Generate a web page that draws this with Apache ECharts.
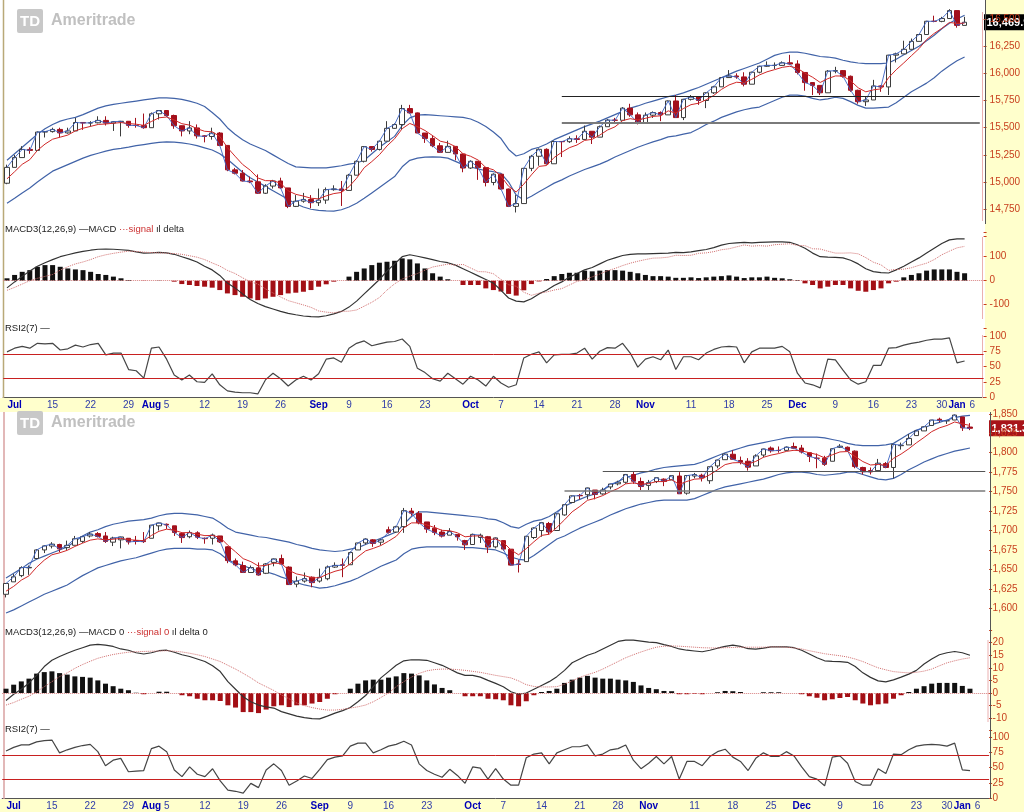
<!DOCTYPE html>
<html><head><meta charset="utf-8">
<script src="https://cdn.jsdelivr.net/npm/echarts/dist/echarts.min.js"></script>
<style>html,body{margin:0;padding:0;background:#fff;overflow:hidden}#c{width:1024px;height:812px}</style>
</head><body><div id="c"></div>
<script>
// ---------- categories ----------
const dates = ['07/05','07/08','07/09','07/10','07/11','07/12','07/15','07/16','07/17','07/18',
'07/19','07/22','07/23','07/24','07/25','07/26','07/29','07/30','07/31','08/01',
'08/02','08/05','08/06','08/07','08/08','08/09','08/12','08/13','08/14','08/15',
'08/16','08/19','08/20','08/21','08/22','08/23','08/26','08/27','08/28','08/29',
'08/30','09/03','09/04','09/05','09/06','09/09','09/10','09/11','09/12','09/13',
'09/16','09/17','09/18','09/19','09/20','09/23','09/24','09/25','09/26','09/27',
'09/30','10/01','10/02','10/03','10/04','10/07','10/08','10/09','10/10','10/11',
'10/14','10/15','10/16','10/17','10/18','10/21','10/22','10/23','10/24','10/25',
'10/28','10/29','10/30','10/31','11/01','11/04','11/05','11/06','11/07','11/08',
'11/11','11/12','11/13','11/14','11/15','11/18','11/19','11/20','11/21','11/22',
'11/25','11/26','11/27','11/29','12/02','12/03','12/04','12/05','12/06','12/09',
'12/10','12/11','12/12','12/13','12/16','12/17','12/18','12/19','12/20','12/23',
'12/24','12/26','12/27','12/30','12/31','01/02','01/03','01/06','01/07'];
const tickDates = ['07/08','07/15','07/22','07/29','08/01','08/05','08/12','08/19','08/26','09/03','09/09','09/16','09/23','10/01','10/07','10/14','10/21','10/28','11/01','11/11','11/18','11/25','12/02','12/09','12/16','12/23','12/30','01/02','01/06'];
const tickText  = ['Jul','15','22','29','Aug','5','12','19','26','Sep','9','16','23','Oct','7','14','21','28','Nov','11','18','25','Dec','9','16','23','30','Jan','6'];
const monthTicks = ['Jul','Aug','Sep','Oct','Nov','Dec','Jan'];

// ---------- Dow (top) ----------
const djO = [14989,15135,15225,15300,15291,15460,15464,15484,15452,15470,
15548,15543,15545,15567,15542,15555,15559,15521,15520,15500,
15628,15658,15612,15518,15470,15498,15425,15419,15451,15337,
15112,15081,15010,15002,14897,14963,15010,14946,14776,14824,
14840,14810,14834,14930,14937,14923,15063,15191,15326,15300,
15376,15494,15529,15676,15636,15451,15401,15334,15273,15328,
15258,15129,15191,15133,14996,15072,14936,14776,14802,15126,
15237,15301,15168,15373,15371,15399,15392,15467,15413,15509,
15570,15568,15680,15618,15546,15615,15639,15618,15746,15593,
15761,15783,15750,15821,15876,15961,15976,15967,15900,16010,
16065,16073,16073,16097,16086,16008,15915,15889,15821,16020,
16025,15973,15844,15739,15755,15884,15875,16167,16179,16221,
16294,16357,16479,16478,16504,16577,16441];
const djH = [15160,15250,15330,15320,15465,15470,15500,15500,15500,15590,
15550,15560,15605,15605,15560,15560,15560,15590,15630,15640,
15660,15660,15620,15520,15560,15530,15430,15500,15460,15337,
15130,15110,15050,15070,14980,15020,15040,14946,14880,14900,
14880,14940,14950,14970,15010,15075,15200,15330,15330,15380,
15560,15540,15710,15710,15640,15451,15430,15360,15380,15328,
15258,15200,15191,15140,15080,15072,14940,14880,15130,15250,
15310,15310,15380,15376,15420,15430,15520,15467,15520,15580,
15590,15690,15720,15640,15640,15650,15650,15750,15800,15765,
15800,15790,15825,15885,15965,16030,16000,16010,16015,16070,
16110,16100,16110,16170,16120,16008,15920,15890,16030,16060,
16030,15980,15850,15790,15940,15890,16170,16190,16300,16320,
16360,16483,16530,16520,16590,16580,16520];
const djL = [14980,15135,15225,15260,15291,15410,15455,15410,15445,15470,
15480,15510,15540,15520,15470,15420,15500,15500,15490,15500,
15575,15600,15490,15420,15440,15400,15365,15390,15330,15100,
15070,15005,14990,14890,14890,14940,14940,14760,14770,14810,
14760,14780,14800,14920,14780,14923,15063,15180,15280,15290,
15376,15490,15480,15630,15450,15360,15320,15270,15273,15200,
15090,15120,15020,14960,14970,14930,14770,14720,14802,15100,
15150,15160,15168,15230,15360,15360,15392,15350,15413,15509,
15550,15568,15600,15530,15546,15590,15560,15618,15590,15570,
15750,15710,15680,15810,15876,15960,15950,15880,15900,16000,
16060,16040,16070,16080,15990,15840,15800,15800,15821,16000,
15960,15830,15720,15700,15755,15830,15800,16100,16179,16221,
16294,16357,16470,16470,16504,16420,16441];
const djC = [15135,15225,15300,15291,15460,15464,15484,15452,15470,15548,
15543,15545,15567,15542,15555,15559,15521,15520,15500,15628,
15658,15612,15518,15470,15498,15425,15419,15451,15337,15112,
15081,15010,15002,14897,14963,15010,14946,14776,14824,14840,
14810,14834,14930,14937,14923,15063,15191,15326,15300,15376,
15494,15529,15676,15636,15451,15401,15334,15273,15328,15258,
15129,15191,15133,14996,15072,14936,14776,14802,15126,15237,
15301,15168,15373,15371,15399,15392,15467,15413,15509,15570,
15568,15680,15618,15546,15615,15639,15618,15746,15593,15761,
15783,15750,15821,15876,15961,15976,15967,15900,16010,16065,
16073,16073,16097,16086,16008,15915,15889,15821,16020,16025,
15973,15844,15739,15755,15884,15875,16167,16179,16221,16294,
16357,16479,16478,16504,16577,16441,16469.99];
const djUpper = [15200,15260,15320,15380,15440,15490,15530,15560,15580,15595,
15620,15650,15680,15700,15715,15725,15735,15745,15755,15765,
15775,15775,15770,15760,15745,15725,15695,15640,15580,15500,
15440,15390,15350,15320,15290,15250,15210,15170,15140,15135,
15130,15130,15130,15140,15150,15165,15175,15200,15260,15320,
15370,15420,15520,15590,15615,15620,15615,15610,15605,15600,
15595,15580,15550,15510,15460,15400,15300,15240,15260,15300,
15320,15350,15390,15420,15450,15480,15510,15535,15560,15590,
15620,15650,15680,15700,15725,15745,15765,15785,15800,15820,
15845,15870,15900,15930,15960,15990,16020,16045,16070,16095,
16130,16165,16185,16195,16195,16185,16170,16155,16150,16140,
16120,16105,16095,16090,16090,16090,16095,16130,16170,16210,
16250,16300,16350,16410,16460,16500,16535];
const djLower = [14805,14850,14900,14945,15000,15050,15100,15130,15160,15190,
15220,15245,15265,15285,15300,15310,15322,15335,15345,15355,
15365,15370,15368,15360,15350,15335,15315,15295,15260,15210,
15150,15090,15040,15000,14960,14920,14880,14840,14800,14770,
14750,14740,14735,14733,14745,14770,14805,14850,14900,14950,
15000,15050,15140,15200,15220,15230,15232,15230,15220,15190,
15160,15140,15120,15105,15095,15080,15000,14880,14835,14870,
14910,14950,14990,15020,15055,15085,15115,15140,15165,15195,
15230,15260,15290,15320,15345,15370,15390,15415,15425,15440,
15455,15490,15530,15560,15595,15620,15645,15665,15680,15690,
15720,15750,15780,15800,15800,15790,15770,15755,15765,15780,
15770,15740,15705,15680,15680,15685,15690,15730,15780,15830,
15870,15910,15960,16020,16070,16115,16150];
const djAvg = [15030,15095,15163,15206,15291,15349,15394,15413,15432,15471,
15495,15512,15530,15534,15541,15547,15538,15532,15521,15557,
15591,15598,15571,15537,15524,15491,15467,15462,15420,15317,
15238,15162,15109,15038,15013,15012,14990,14919,14887,14871,
14851,14845,14873,14894,14904,14957,15035,15132,15188,15251,
15332,15398,15491,15539,15510,15474,15427,15376,15360,15326,
15260,15237,15202,15133,15113,15054,14961,14908,14981,15066,
15144,15152,15226,15274,15316,15341,15383,15393,15432,15478,
15508,15565,15583,15571,15586,15604,15609,15655,15634,15676,
15712,15725,15757,15797,15852,15893,15918,15912,15945,15985,
16014,16034,16055,16065,16046,16002,15964,15916,15951,15976,
15975,15931,15867,15830,15848,15857,15960,16033,16096,16162,
16227,16311,16367,16413,16468,16459,16462];
const djMacd = [-30,-5,18,40,60,75,88,100,108,116,
122,127,131,132,131,129,126,120,115,116,
118,116,110,100,90,78,60,45,22,-10,
-30,-55,-78,-95,-108,-118,-128,-136,-142,-147,
-150,-151,-146,-138,-128,-110,-85,-55,-25,5,
40,70,100,108,102,95,88,80,75,65,
50,35,20,5,-10,-40,-72,-85,-88,-75,
-55,-40,-20,-5,15,30,45,55,70,85,
95,105,110,112,112,113,114,115,118,117,
120,125,130,138,148,155,158,160,158,160,
161,162,162,160,150,135,115,100,98,97,
95,85,70,50,38,34,32,45,60,78,
95,115,135,155,170,174,174];
const djSignal = [-40,-28,-14,0,10,18,26,44,58,70,
78,88,100,108,114,119,123,122,119,117,
116,115,113,110,104,98,88,74,61,43,
30,12,-4,-14,-34,-51,-68,-83,-92,-101,
-111,-126,-131,-134,-128,-127,-122,-106,-90,-70,
-39,-13,7,19,30,44,57,63,69,65,
68,53,38,37,29,5,-17,-23,-48,-61,
-52,-47,-39,-33,-18,-3,3,16,28,41,
51,63,73,81,88,94,95,98,106,105,
106,114,116,121,129,133,141,149,144,146,
144,150,152,154,147,146,133,132,123,115,
115,116,112,96,77,66,43,47,48,54,
64,73,88,108,123,137,143];
const djDelta = [10,24,37,44,58,65,65,58,51,47,
44,37,28,24,17,10,3,0,-1,0,
1,0,-4,-14,-18,-22,-25,-29,-39,-53,
-60,-67,-74,-81,-74,-67,-60,-53,-50,-46,
-39,-25,-15,-4,0,17,37,51,65,75,
79,83,93,89,72,51,31,17,6,0,
-18,-18,-18,-32,-39,-45,-55,-62,-40,-14,
-3,7,19,28,33,33,42,39,42,44,
44,42,37,31,24,19,19,17,12,12,
14,11,14,17,19,22,17,11,14,14,
17,12,10,6,3,-11,-18,-32,-25,-18,
-18,-32,-42,-46,-39,-32,-11,-4,14,24,
31,42,47,47,47,37,31];
const djRsi = [74,80,83,80,88,87,88,77,79,85,
82,86,88,69,72,72,45,43,31,80,
82,62,36,28,36,25,24,38,20,10,
8,7,7,5,28,39,30,18,28,34,
28,38,62,64,57,80,88,92,84,87,
90,91,95,83,47,40,30,26,39,30,
21,34,28,18,34,23,16,20,64,70,
74,56,69,70,70,72,80,62,75,81,
80,88,72,49,62,66,61,77,45,66,
66,61,72,78,82,83,82,56,74,80,
80,80,83,74,39,23,20,15,62,61,
44,28,21,25,52,52,80,81,85,88,
90,93,95,95,97,56,59];
const djLevelFrom = ['10/17','10/17'];
const djLevelValue = [15785,15545];

// ---------- S&P 500 (bottom) ----------
const spO = [1618,1634,1642,1652,1664,1675,1680,1682,1678,1681,
1686,1693,1696,1693,1685,1688,1690,1687,1687,1690,
1706,1708,1706,1696,1692,1697,1690,1690,1693,1679,
1661,1655,1646,1652,1645,1659,1664,1653,1631,1635,
1640,1635,1638,1653,1656,1656,1675,1684,1688,1685,
1701,1698,1705,1725,1722,1711,1703,1698,1694,1695,
1687,1682,1691,1692,1679,1687,1676,1657,1660,1691,
1700,1709,1700,1720,1736,1745,1746,1752,1747,1756,
1760,1762,1772,1763,1758,1763,1766,1765,1770,1748,
1770,1771,1764,1783,1791,1798,1790,1789,1783,1797,
1806,1803,1803,1808,1806,1800,1793,1793,1789,1807,
1807,1802,1781,1777,1777,1786,1781,1809,1810,1822,
1828,1835,1843,1841,1842,1846,1833];
const spH = [1632,1644,1654,1655,1676,1681,1685,1683,1687,1693,
1693,1698,1698,1698,1692,1692,1690,1693,1698,1707,
1710,1709,1706,1697,1700,1699,1691,1696,1693,1680,
1664,1660,1655,1659,1658,1664,1669,1654,1641,1646,
1641,1651,1655,1659,1664,1673,1684,1690,1689,1689,
1705,1706,1729,1729,1725,1711,1707,1701,1703,1695,
1688,1696,1696,1693,1691,1687,1676,1662,1693,1704,
1711,1711,1722,1734,1745,1747,1755,1752,1755,1760,
1764,1772,1776,1768,1765,1768,1767,1771,1775,1771,
1774,1773,1782,1791,1799,1803,1795,1793,1798,1805,
1808,1808,1808,1813,1810,1800,1799,1796,1806,1811,
1808,1803,1782,1781,1792,1788,1811,1813,1824,1829,
1834,1842,1845,1842,1849,1846,1838];
const spL = [1614,1634,1640,1643,1664,1671,1677,1672,1675,1681,
1684,1691,1691,1684,1680,1677,1682,1682,1684,1690,
1700,1702,1693,1684,1690,1689,1683,1682,1684,1658,
1654,1646,1646,1642,1644,1654,1656,1630,1627,1633,
1627,1633,1636,1652,1640,1656,1675,1682,1679,1681,
1696,1697,1697,1719,1708,1697,1694,1691,1694,1687,
1675,1682,1684,1671,1677,1674,1655,1646,1660,1689,
1692,1695,1700,1719,1735,1740,1740,1740,1746,1753,
1758,1760,1760,1752,1752,1761,1757,1765,1747,1746,
1767,1763,1760,1780,1791,1791,1785,1777,1783,1794,
1800,1800,1802,1805,1799,1788,1780,1783,1789,1806,
1801,1780,1772,1772,1777,1780,1767,1804,1810,1822,
1828,1835,1839,1837,1842,1828,1829];
const spC = [1631.9,1640.5,1652.3,1652.6,1675.0,1680.2,1682.5,1676.3,1680.9,1689.4,
1692.1,1695.5,1692.4,1685.9,1690.3,1691.7,1685.3,1686.0,1685.7,1706.9,
1709.7,1707.1,1697.4,1690.9,1697.5,1691.4,1689.5,1694.2,1685.4,1661.3,
1655.8,1646.1,1652.4,1642.8,1657.0,1663.5,1656.8,1630.5,1635.0,1638.2,
1633.0,1639.8,1653.1,1655.1,1655.2,1671.7,1684.0,1689.1,1683.4,1688.0,
1697.6,1704.8,1725.5,1722.3,1709.9,1701.8,1697.4,1692.8,1698.7,1691.8,
1681.6,1695.0,1693.9,1678.7,1690.5,1676.1,1655.5,1656.4,1692.6,1703.2,
1710.1,1698.1,1721.5,1733.2,1744.5,1744.7,1754.7,1746.4,1752.1,1759.8,
1762.1,1772.0,1763.3,1756.5,1761.6,1767.9,1763.0,1770.5,1747.2,1770.6,
1771.9,1767.7,1782.0,1790.6,1798.2,1791.5,1787.9,1781.4,1795.9,1804.8,
1802.5,1802.8,1807.2,1805.8,1800.9,1795.2,1792.8,1785.0,1805.1,1808.4,
1802.6,1782.2,1775.5,1775.3,1786.5,1781.0,1810.7,1809.6,1818.3,1828.0,
1833.3,1842.0,1841.4,1841.1,1848.4,1832.0,1831.37];
const spUpper = [1639,1645,1651,1658,1663,1667,1671,1675,1679,1686,
1693,1698,1701,1705,1708,1710,1712,1713,1714,1716,
1719,1721,1722,1722,1721,1720,1718,1716,1710,1703,
1698,1696,1694,1692,1691,1689,1687,1685,1682,1680,
1677,1675,1674,1673,1674,1676,1678,1682,1686,1690,
1694,1698,1708,1718,1724,1724,1723,1722,1721,1720,
1719,1718,1717,1715,1714,1710,1705,1703,1708,1712,
1714,1718,1724,1731,1736,1740,1744,1747,1752,1758,
1763,1768,1771,1774,1776,1779,1781,1782,1783,1784,
1785,1788,1792,1796,1800,1803,1806,1809,1811,1813,
1815,1817,1819,1820,1820,1820,1820,1819,1817,1815,
1812,1810,1809,1809,1809,1810,1812,1818,1824,1829,
1832,1836,1839,1842,1845,1847,1848];
const spLower = [1594,1598,1603,1608,1613,1618,1622,1626,1630,1636,
1642,1647,1652,1655,1658,1661,1663,1665,1668,1671,
1674,1676,1677,1677,1677,1676,1676,1675,1670,1662,
1658,1655,1651,1648,1647,1644,1640,1637,1633,1630,
1628,1626,1627,1629,1632,1635,1639,1644,1649,1654,
1658,1662,1670,1676,1678,1679,1679,1679,1679,1679,
1678,1678,1677,1676,1675,1671,1666,1663,1662,1668,
1675,1682,1689,1693,1698,1703,1707,1711,1715,1720,
1724,1728,1731,1734,1736,1738,1739,1739,1739,1739,
1741,1745,1749,1753,1756,1758,1760,1762,1764,1766,
1769,1772,1774,1775,1775,1774,1772,1771,1772,1773,
1775,1775,1772,1769,1766,1765,1767,1772,1778,1783,
1788,1792,1796,1799,1802,1804,1806];
const spAvg = [1622,1628.2,1636.2,1641.7,1652.8,1661.9,1668.8,1671.3,1674.5,1679.5,
1683.7,1687.6,1689.2,1688.1,1688.8,1689.8,1688.3,1687.5,1686.9,1693.6,
1699,1701.7,1700.3,1697.2,1697.3,1695.3,1693.4,1693.7,1690.9,1681,
1672.6,1663.8,1660,1654.3,1655.2,1658,1657.6,1648.6,1644.1,1642.1,
1639.1,1639.3,1643.9,1647.6,1650.1,1657.3,1666.2,1673.8,1677,1680.7,
1686.3,1692.5,1703.5,1709.8,1709.8,1707.1,1703.9,1700.2,1699.7,1697.1,
1691.9,1692.9,1693.2,1688.4,1689.1,1684.8,1675,1668.8,1676.7,1685.5,
1693.7,1695.2,1704,1713.7,1724,1730.9,1738.8,1741.3,1744.9,1749.9,
1754,1760,1761.1,1759.6,1760.3,1762.8,1762.9,1765.4,1759.3,1763.1,
1766,1766.6,1771.7,1778,1784.7,1787,1787.3,1785.3,1788.8,1794.1,
1796.9,1798.9,1801.7,1803.1,1802.4,1800,1797.6,1793.4,1797.3,1801,
1801.5,1795.1,1788.6,1784.2,1785,1783.7,1792.7,1798.3,1805,1812.7,
1819.6,1827.1,1831.9,1835,1839.5,1837,1835.1];
const spMacd = [-3,-0.5,1.5,4,7,10.5,13,14.5,15.8,17,
18,19,19.3,19,18.5,17.5,17,16,15.5,16,
16.8,17,16.2,15.2,14.5,13.5,12.5,10.8,8.5,4.5,
1.5,-1.5,-3.5,-4.8,-5.5,-6,-7.4,-8.3,-9.2,-9.8,
-10.2,-10.3,-9.2,-8,-7,-5.8,-3.5,-1,2.5,6,
8.5,11,12.8,13.2,13.2,13,12,11,9.5,8,
7,7,6.3,5,3.8,2.5,0.5,-0.5,0,1.5,
3,4.5,6.5,9,12,13.5,15,16,17.5,19,
20.5,21,21,20.6,20.2,20,19.2,18.5,17.5,17,
16.7,16.4,17,17.8,18.5,19,18.5,17.6,17.4,17.8,
18.3,18.3,18.3,18,17,15.5,14,12.8,12.6,12.5,
12.2,10.5,8,6.2,4.8,4.4,5.2,6.3,7.5,9,
11.5,13.5,15.2,16,16.5,16,15];
const spSignal = [-4.8,-3.8,-2.5,-1.3,0.5,2.5,4.5,6.5,8,9.8,
11.3,12.6,13.8,14.6,15.3,15.8,16.2,16.4,16.5,16.6,
16.7,16.8,16.6,16.3,15.8,15.2,14.5,13.5,12.5,11,
9.5,7.8,6,4,2.5,1,-0.8,-2.3,-4,-5,
-5.8,-6.4,-6.8,-6.8,-6.5,-6,-5.5,-4.8,-3.5,-1.8,
0,2.5,4.5,6.3,7.8,8.8,9.3,9.5,9.5,9.3,
9,8.6,8.2,7.6,7,6.5,6,4.8,3.3,2.6,
2.4,2.4,2.5,3.5,4.8,6.2,7.3,8.2,9.5,11,
12.5,14,15.2,16.3,17.3,18.2,18.6,18.7,18.6,18.4,
18.2,18,17.9,17.9,18,18.1,18.2,18.2,18.2,18.2,
18.3,18.3,18.2,17.9,17.5,16.8,16.2,15.6,15.2,14.8,
14.3,13.5,12.5,11.2,10,9.2,8.5,8.2,8,8.2,
8.7,9.5,10.8,12,12.8,13.5,14];
const spDelta = [1.7,3.3,4.6,5.7,7.7,8.3,8.6,7.9,7.3,6.6,
6.4,6.1,5,3.7,2.7,1.7,1.1,0.1,-0.5,0,
0.5,0.5,0,-0.9,-1.3,-2.3,-2.9,-2.9,-3.2,-4.9,
-5.8,-7.6,-7.6,-8,-6.6,-5.3,-4.9,-5.6,-4.9,-4.9,
-4.2,-3.6,-2.3,-0.5,0,1.7,3.7,5,5.3,5.3,
6.1,6.6,7.9,7.7,7,5,3.4,2,1.1,0,
-1.3,-1.3,-1.3,-2.3,-2.5,-2.9,-4.9,-5.3,-3.3,-0.9,
0.4,0.8,1.7,4,5.3,6.1,6.8,6.1,5.7,5.7,
5.3,5,4.4,3,2,1.5,0.8,0.7,-0.5,-0.5,
-0.3,-0.5,0,0.3,0.8,0.7,0.4,0,0,0.3,
0.3,0.3,0,0,-0.5,-1.3,-1.9,-2.9,-2.5,-2,
-1.6,-2.9,-4.2,-4.9,-4.5,-4.2,-2.3,-0.9,0.4,1.7,
2.7,3.7,4,4,4,2.8,1.7];
const spRsi = [77,83,87,87,92,94,95,74,79,83,
86,88,76,53,62,65,43,44,45,81,
85,76,46,35,51,39,35,48,28,13,
11,8,24,17,46,56,45,21,28,36,
32,47,63,67,69,85,90,90,74,79,
85,88,93,87,56,45,39,34,47,37,
24,51,49,31,48,31,21,21,66,72,
74,56,74,79,84,84,87,69,72,79,
81,87,62,48,57,68,56,68,31,60,
60,53,68,76,80,67,60,45,65,74,
68,68,76,69,51,35,31,20,67,69,
57,27,21,21,48,40,72,71,79,85,
87,88,87,85,90,46,45];
const spLevelFrom = ['10/24','10/17'];
const spLevelValue = [1776,1751];
const rsiLevels = [70, 30];

// ---------- chart ----------
const FONT = 'Liberation Sans, Arial, sans-serif';
const AXC = '#C8401E';
const chart = echarts.init(document.getElementById('c'), null, {renderer:'canvas'});
const tickMap = {};
tickDates.forEach((d,i)=>{ tickMap[d] = tickText[i]; });

const GT = {left:3.2, width:980.4};
const GB = {left:2.2, width:986.9};
const grids = [
  Object.assign({top:-8.2, height:244.6}, GT),
  Object.assign({top:232.7, height:96}, GT),
  Object.assign({top:336, height:61}, GT),
  Object.assign({top:413.8, height:194.5}, GB),
  Object.assign({top:630.1, height:100.6}, GB),
  Object.assign({top:737, height:61}, GB)
].map(g => Object.assign(g, {containLabel:false, outerBoundsMode:'none'}));

function xAx(gi, withLabels){
  return {type:'category', gridIndex:gi, data:dates, boundaryGap:true, show:true,
    axisLine:{show:withLabels, lineStyle:{color:'#555', width:1}},
    axisTick:{show:false}, splitLine:{show:false},
    axisLabel:{show:withLabels, margin:3, fontFamily:FONT,
      interval:(idx, val)=> tickMap[val] !== undefined,
      formatter:(val)=>{ const t = tickMap[val]; if (t===undefined) return ''; return monthTicks.indexOf(t)>=0 ? '{m|'+t+'}' : '{d|'+t+'}'; },
      rich:{m:{fontWeight:'bold', color:'#0000B8', fontSize:10, fontFamily:FONT}, d:{color:'#2E3CA8', fontSize:10, fontFamily:FONT}}}};
}
function yAx(gi, min, max, interval, fmt, margin){
  return {type:'value', gridIndex:gi, position:'right', min, max, interval,
    splitLine:{show:false}, axisLine:{show:false},
    axisTick:{show:true, length:3, lineStyle:{color:AXC}},
    axisLabel:{color:AXC, fontSize:10, fontFamily:FONT, margin, formatter:fmt}};
}
const fmtNum = v => v.toLocaleString('en-US');

function candles(O,H,L,C){ return O.map((o,i)=>[o, C[i], L[i], H[i]]); }
function lineS(name, data, xi, color, width, z, type){
  return {name, type:'line', xAxisIndex:xi, yAxisIndex:xi, data, symbol:'none', showSymbol:false,
    lineStyle:{color, width, type:type||'solid'}, z:z||2, silent:true, clip:false};
}
function levelLines(from, vals, styles){
  return from.map((f,i)=>[{coord:[f, vals[i]], lineStyle:Object.assign({type:'solid'}, styles[i])}, {coord:[dates[dates.length-1], vals[i]]}]);
}

function panelSeries(off, O,H,L,C, up, lo, avg, macd, sig, delta, rsi, lvFrom, lvVal, lvStyles){
  return [
    lineS('upper', up, off, '#4163A8', 1.2, 2),
    lineS('lower', lo, off, '#4163A8', 1.2, 2),
    {name:'price', type:'candlestick', xAxisIndex:off, yAxisIndex:off, data:candles(O,H,L,C), barWidth:5, z:3, silent:true,
      itemStyle:{color:'#FFFFFF', color0:'#A3101C', borderColor:'#3C3C3C', borderColor0:'#A3101C', borderWidth:1},
      markLine:{silent:true, symbol:['none','none'], label:{show:false}, animation:false,
        lineStyle:{type:'solid'}, data: levelLines(lvFrom, lvVal, lvStyles)}},
    lineS('close', C, off, '#3A62C4', 0.9, 4),
    lineS('avg', avg, off, '#D02828', 1, 4),
    {name:'delta', type:'bar', xAxisIndex:off+1, yAxisIndex:off+1, data:delta, barWidth:5, silent:true,
      itemStyle:{color:(p)=> p.value>=0 ? '#111111' : '#A30F15'},
      markLine:{silent:true, symbol:['none','none'], label:{show:false}, animation:false,
        lineStyle:{color:'#D88080', type:'dotted', width:1}, data:[{yAxis:0}]}},
    lineS('macd', macd, off+1, '#333333', 1.2, 4),
    lineS('signal', sig, off+1, '#D27070', 1, 4, 'dotted'),
    Object.assign(lineS('rsi', rsi, off+2, '#454545', 1.2, 4), {
      markLine:{silent:true, symbol:['none','none'], label:{show:false}, animation:false,
        lineStyle:{color:'#C82020', width:1, type:'solid'}, data: rsiLevels.map(v=>({yAxis:v}))}})
  ];
}

const option = {
  animation:false,
  backgroundColor:'#FFFFFF',
  textStyle:{fontFamily:FONT},
  grid: grids,
  xAxis: [xAx(0,false), xAx(1,false), xAx(2,true), xAx(3,false), xAx(4,false), xAx(5,true)],
  yAxis: [
    yAx(0, 14500, 16750, 250, v => (v<14750 ? '' : fmtNum(v)), 6),
    yAx(1, -200, 200, 100, v => (Math.abs(v)>100 ? '' : String(v)), 6),
    yAx(2, 0, 100, 25, v => String(v), 6),
    yAx(3, 1600, 1850, 25, v => fmtNum(v), 3.5),
    yAx(4, -15, 25, 5, v => ((v>20||v<-10) ? '' : String(v)), 3.5),
    yAx(5, 0, 100, 25, v => String(v), 3.5)
  ],
  series: [].concat(
    panelSeries(0, djO,djH,djL,djC, djUpper,djLower,djAvg, djMacd,djSignal,djDelta, djRsi,
      djLevelFrom, djLevelValue, [{color:'#222', width:1}, {color:'#7A7A7A', width:2}]),
    panelSeries(3, spO,spH,spL,spC, spUpper,spLower,spAvg, spMacd,spSignal,spDelta, spRsi,
      spLevelFrom, spLevelValue, [{color:'#555', width:1}, {color:'#7A7A7A', width:1.6}])
  )
};
chart.setOption(option);

// ---------- decorations ----------
function vline(id, x, y1, y2, color, w){ return {id, type:'line', shape:{x1:x,y1:y1,x2:x,y2:y2}, style:{stroke:color, lineWidth:w||1}, silent:true, z:1}; }
function bg(id, x, y, w, h){ return {id, type:'rect', shape:{x, y, width:w, height:h}, style:{fill:'#FFFFCC'}, silent:true, z:-10}; }
function logo(id, y){
  return {id, type:'group', x:0, y:y, silent:true, z:1, children:[
    {type:'rect', shape:{x:17, y:0, width:26, height:24, r:2}, style:{fill:'#C8C8C8'}},
    {type:'text', x:30, y:12.5, style:{text:'TD', fill:'#FFFFFF', font:'bold 15px '+FONT, align:'center', verticalAlign:'middle'}},
    {type:'text', x:51, y:11.5, style:{text:'Ameritrade', fill:'#C0C0C0', font:'bold 16px '+FONT, verticalAlign:'middle'}}
  ]};
}
function legendText(id, y, s){
  return {id, type:'text', x:5, y:y, silent:true, z:5, style:{text:s, verticalAlign:'middle',
    rich:{k:{fill:'#222', fontSize:9.5, fontFamily:FONT}, r:{fill:'#CC3030', fontSize:9.5, fontFamily:FONT}}}};
}
function priceBox(id, x, y, fill, label){
  return {id, type:'group', silent:true, z:20, children:[
    {type:'rect', shape:{x:x, y:y-8, width:1024-x, height:16}, style:{fill:fill}},
    {type:'text', x:x+2.5, y:y+0.5, style:{text:label, fill:'#FFFFFF', font:'bold 11px '+FONT, verticalAlign:'middle'}}
  ]};
}
const yTopLast = chart.convertToPixel({yAxisIndex:0}, djC[djC.length-1]);
const yBotLast = chart.convertToPixel({yAxisIndex:3}, spC[spC.length-1]);
const fmt2 = v => v.toLocaleString('en-US', {minimumFractionDigits:2, maximumFractionDigits:2});

chart.setOption({graphic:[
  bg('bg1', 985, 0, 39, 398), bg('bg2', 990, 412, 34, 388),
  bg('bg3', 0, 398, 1024, 14), bg('bg4', 0, 799, 1024, 13),
  vline('l1', 3.5, 0, 398, '#B9A978', 1.5), vline('l2', 4, 412, 799, '#D8A0A0', 1.5),
  vline('l3', 985.5, 0, 224, '#555', 1), vline('l4', 990.5, 412, 799, '#555', 1),
  vline('p1', 982.5, 12, 221, '#EBB0B0', 1), vline('p2', 982.5, 237, 319, '#EBB0B0', 1), vline('p3', 982.5, 335, 398, '#EBB0B0', 1),
  vline('p4', 988, 640, 722, '#EBB0B0', 1),
  logo('g1', 9), logo('g2', 411),
  legendText('t1', 229, '{k|MACD3(12,26,9) —MACD }{r|···signal}{k| ıl delta}'),
  legendText('t2', 328, '{k|RSI2(7) —}'),
  legendText('t3', 632, '{k|MACD3(12,26,9) —MACD 0 }{r|···signal 0}{k| ıl delta 0}'),
  legendText('t4', 729, '{k|RSI2(7) —}'),
  priceBox('b1', 984, yTopLast, '#000000', fmt2(djC[djC.length-1])),
  priceBox('b2', 989, yBotLast, '#A8141A', fmt2(spC[spC.length-1]))
]});
</script></body></html>
